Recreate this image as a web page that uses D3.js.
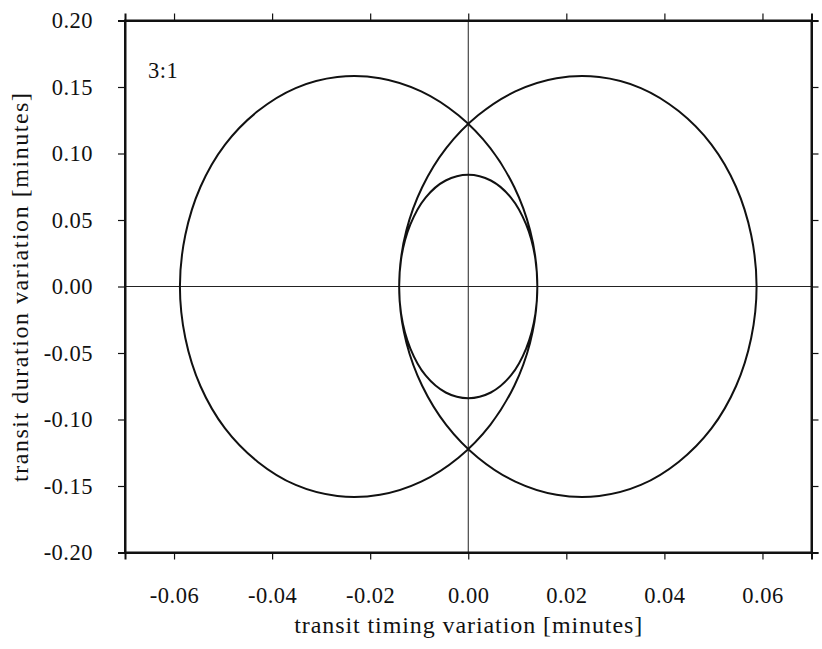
<!DOCTYPE html>
<html>
<head>
<meta charset="utf-8">
<script src="https://cdn.jsdelivr.net/npm/d3@7"></script>
<style>
  html, body { margin: 0; padding: 0; background: #fff; }
  svg { display: block; }
  text { font-family: "Liberation Serif", "DejaVu Serif", serif; fill: #111; }
</style>
</head>
<body>
<svg id="chart" width="822" height="649"></svg>
<script>
// Data (transit timing vs transit duration variation, minutes)
const ttv = [0.0000, 0.0046, 0.0087, 0.0118, 0.0137, 0.0140, 0.0126, 0.0094, 0.0045, -0.0020,
  -0.0096, -0.0180, -0.0267, -0.0352, -0.0429, -0.0496, -0.0546, -0.0577, -0.0588, -0.0577,
  -0.0546, -0.0496, -0.0429, -0.0352, -0.0267, -0.0180, -0.0096, -0.0020, 0.0045, 0.0094,
  0.0126, 0.0140, 0.0137, 0.0118, 0.0087, 0.0046, 0.0000, -0.0046, -0.0087, -0.0118,
  -0.0137, -0.0140, -0.0126, -0.0094, -0.0045, 0.0020, 0.0096, 0.0180, 0.0267, 0.0352,
  0.0429, 0.0496, 0.0546, 0.0577, 0.0588, 0.0577, 0.0546, 0.0496, 0.0429, 0.0352,
  0.0267, 0.0180, 0.0096, 0.0020, -0.0045, -0.0094, -0.0126, -0.0140, -0.0137, -0.0118,
  -0.0087, -0.0046];
const tdv = [0.0840, 0.0797, 0.0669, 0.0467, 0.0205, -0.0100, -0.0424, -0.0746, -0.1040, -0.1287,
  -0.1467, -0.1566, -0.1575, -0.1492, -0.1319, -0.1067, -0.0750, -0.0387, 0.0000, 0.0387,
  0.0750, 0.1067, 0.1319, 0.1492, 0.1575, 0.1566, 0.1467, 0.1287, 0.1040, 0.0746,
  0.0424, 0.0100, -0.0205, -0.0467, -0.0669, -0.0797, -0.0840, -0.0797, -0.0669, -0.0467,
  -0.0205, 0.0100, 0.0424, 0.0746, 0.1040, 0.1287, 0.1467, 0.1566, 0.1575, 0.1492,
  0.1319, 0.1067, 0.0750, 0.0387, 0.0000, -0.0387, -0.0750, -0.1067, -0.1319, -0.1492,
  -0.1575, -0.1566, -0.1467, -0.1287, -0.1040, -0.0746, -0.0424, -0.0100, 0.0205, 0.0467,
  0.0669, 0.0797];
const xTicks = [-0.06, -0.04, -0.02, 0.00, 0.02, 0.04, 0.06];
const xTickLabels = ["-0.06", "-0.04", "-0.02", "0.00", "0.02", "0.04", "0.06"];
const yTicks = [-0.20, -0.15, -0.10, -0.05, 0.00, 0.05, 0.10, 0.15, 0.20];
const yTickLabels = ["-0.20", "-0.15", "-0.10", "-0.05", "0.00", "0.05", "0.10", "0.15", "0.20"];
const xDomain = [-0.07, 0.07];
const yDomain = [-0.20, 0.20];
const panelLabel = "3:1";
const xTitle = "transit timing variation [minutes]";
const yTitle = "transit duration variation [minutes]";

const L = 125, R = 811.5, T = 20.5, B = 552.5;
const svg = d3.select("#chart");
const x = d3.scaleLinear().domain(xDomain).range([L, R]);
const y = d3.scaleLinear().domain(yDomain).range([B, T]);

// zero lines
svg.append("line").attr("x1", x(0)).attr("x2", x(0)).attr("y1", T).attr("y2", B)
  .attr("stroke", "#222").attr("stroke-width", 1);
svg.append("line").attr("x1", L).attr("x2", R).attr("y1", y(0)).attr("y2", y(0))
  .attr("stroke", "#222").attr("stroke-width", 1);

// curve
const pts = ttv.map((v, i) => [v, tdv[i]]);
svg.append("path").datum(pts)
  .attr("d", d3.line().x(d => x(d[0])).y(d => y(d[1])).curve(d3.curveCatmullRomClosed.alpha(0.5)))
  .attr("fill", "none").attr("stroke", "#111").attr("stroke-width", 2);

// axes
const fmtX = (d, i) => xTickLabels[i];
const fmtY = (d, i) => yTickLabels[i];
const ax = [
  svg.append("g").attr("transform", `translate(0,${B})`).call(d3.axisBottom(x).tickValues(xTicks).tickFormat(fmtX).tickSizeOuter(0).tickSize(7).tickPadding(28)),
  svg.append("g").attr("transform", `translate(0,${T})`).call(d3.axisTop(x).tickValues(xTicks).tickFormat("").tickSizeOuter(0).tickSize(7)),
  svg.append("g").attr("transform", `translate(${L},0)`).call(d3.axisLeft(y).tickValues(yTicks).tickFormat(fmtY).tickSizeOuter(0).tickSize(7).tickPadding(25)),
  svg.append("g").attr("transform", `translate(${R},0)`).call(d3.axisRight(y).tickValues(yTicks).tickFormat("").tickSizeOuter(0).tickSize(7))
];
ax.forEach(g => {
  g.attr("font-family", null);
  g.select(".domain").attr("stroke", "#111").attr("stroke-width", 2);
  g.selectAll(".tick line").attr("stroke", "#111").attr("stroke-width", 1.2);
  g.selectAll("text").attr("font-size", 22.5).attr("letter-spacing", 0.5).attr("fill", "#111");
});
// frame
svg.append("rect").attr("x", L).attr("y", T).attr("width", R - L).attr("height", B - T)
  .attr("fill", "none").attr("stroke", "#111").attr("stroke-width", 2);

// labels
svg.append("text").attr("x", 148).attr("y", 78).attr("font-size", 22.5).attr("letter-spacing", 0.5).text(panelLabel);
svg.append("text").attr("x", (L + R) / 2).attr("y", 633).attr("text-anchor", "middle")
  .attr("font-size", 24).attr("textLength", 348).attr("lengthAdjust", "spacing").text(xTitle);
svg.append("text").attr("transform", `translate(28,${(T + B) / 2 + 1}) rotate(-90)`)
  .attr("text-anchor", "middle").attr("font-size", 24).attr("textLength", 389).attr("lengthAdjust", "spacing").text(yTitle);
</script>
</body>
</html>
